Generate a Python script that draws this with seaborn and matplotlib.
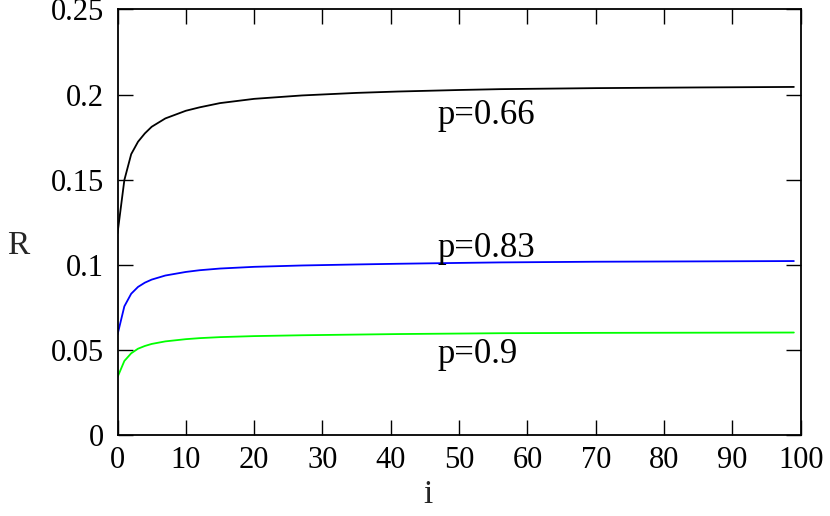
import matplotlib
matplotlib.use("Agg")
import matplotlib.pyplot as plt
import seaborn as sns
import pandas as pd

# Data
i_vals = [0, 1, 2, 3, 4, 5, 7, 10, 12, 15, 20, 27, 35, 41, 50, 56, 70, 85, 99]
r_p066 = [0.1185, 0.1498, 0.1650, 0.1723, 0.1772, 0.1811, 0.1860, 0.1905, 0.1925,
          0.1950, 0.1975, 0.1995, 0.2010, 0.2018, 0.2027, 0.2032, 0.2038, 0.2042, 0.2045]
r_p083 = [0.0590, 0.0756, 0.0830, 0.0870, 0.0895, 0.0913, 0.0937, 0.0958, 0.0968,
          0.0978, 0.0988, 0.0996, 0.1002, 0.1006, 0.1011, 0.1014, 0.1018, 0.1020, 0.1022]
r_p090 = [0.0340, 0.0435, 0.0480, 0.0507, 0.0523, 0.0535, 0.0550, 0.0563, 0.0569,
          0.0575, 0.0581, 0.0586, 0.0590, 0.0593, 0.0596, 0.0598, 0.0600, 0.0601, 0.0602]
series_labels = ["p=0.66", "p=0.83", "p=0.9"]
series_colors = ["#000000", "#0000ff", "#00ff00"]
label_pos = [(46.8, 0.1875), (46.8, 0.1095), (46.8, 0.0470)]
x_ticks = list(range(0, 101, 10))
y_ticks = [0, 0.05, 0.1, 0.15, 0.2, 0.25]

sns.set_theme(style="ticks")
plt.rcParams["font.family"] = ["Liberation Serif", "DejaVu Serif"]

rows = []
for lab, vals in zip(series_labels, [r_p066, r_p083, r_p090]):
    for x, y in zip(i_vals, vals):
        rows.append({"i": x, "R": y, "p": lab})
df = pd.DataFrame(rows)

fig = plt.figure(figsize=(8.3, 5.16), dpi=100)
ax = fig.add_axes([0.1416, 0.157, 0.8231, 0.8246])

sns.lineplot(data=df, x="i", y="R", hue="p", palette=series_colors,
             hue_order=series_labels, linewidth=1.3, legend=False, ax=ax,
             estimator=None, sort=True)

for lab, (tx, ty) in zip(series_labels, label_pos):
    ax.text(tx, ty, lab, fontsize=25, color="black", ha="left", va="center")

ax.set_xlim(0, 100)
ax.set_ylim(0, 0.25)
ax.set_xticks(x_ticks)
ax.set_yticks(y_ticks)
ax.yaxis.set_major_formatter(matplotlib.ticker.FuncFormatter(
    lambda v, p: "0" if abs(v) < 1e-12 else ("%g" % v)))
ax.tick_params(axis="both", which="major", direction="in", length=10.8, width=1.0,
               top=True, right=True, labelsize=22, color="black", labelcolor="black")
ax.tick_params(axis="x", pad=8)
ax.tick_params(axis="y", pad=10)
for s in ax.spines.values():
    s.set_visible(True)
    s.set_linewidth(1.3)
    s.set_color("black")

ax.set_xlabel("i", fontsize=24)
ax.set_ylabel("R", fontsize=24, rotation=0)
ax.yaxis.set_label_coords(-0.145, 0.41)
ax.xaxis.set_label_coords(0.455, -0.105)

fig.savefig("out.png", dpi=100)
